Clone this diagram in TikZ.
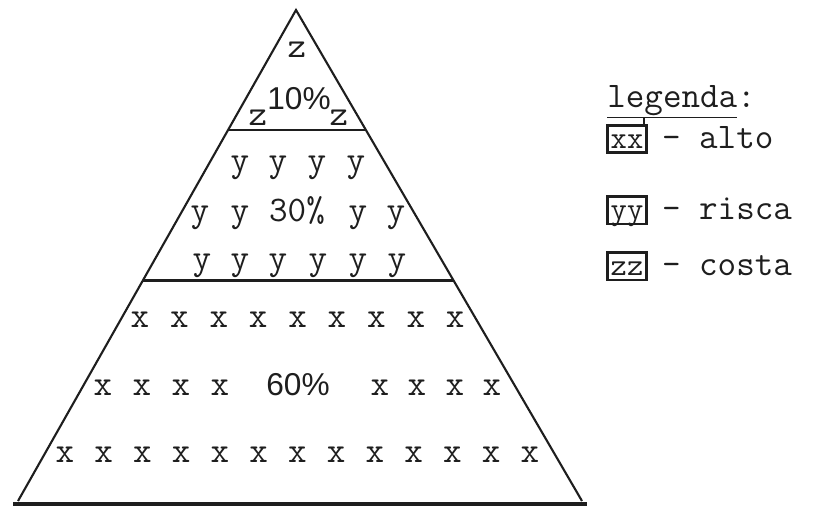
\documentclass[tikz,border=0pt]{standalone}
\usepackage{fontspec}
\setsansfont{Liberation Sans}
\usetikzlibrary{positioning,calc}
\definecolor{InkBlack}{RGB}{30,30,30}
\tikzset{
  edge/.style={draw=InkBlack, line width=1.2pt},
  ltr/.style={font=\ttfamily\fontsize{20.5}{20.5}\selectfont, text=InkBlack, inner sep=0pt, anchor=base},
  pct/.style={font=\sffamily\fontsize{18}{18}\selectfont, text=InkBlack, inner sep=0pt, anchor=base},
  keybox/.style={draw=InkBlack, line width=1.3pt, font=\ttfamily\fontsize{18}{18}\selectfont,
    text=InkBlack, inner xsep=1pt, inner ysep=1.5pt, text height=0.4cm, text depth=0.04cm,
    minimum width=0.78cm, anchor=base},
  keytxt/.style={font=\ttfamily\fontsize{20.5}{20.5}\selectfont, text=InkBlack, inner sep=0pt,
    anchor=base west},
}
\begin{document}
\begin{tikzpicture}[x=0.02cm, y=-0.02cm]
  \useasboundingbox (0,0) rectangle (827,518);
  % pyramid
  \coordinate (apex) at (296,10);
  \coordinate (bl) at (18,501);
  \coordinate (br) at (582,501);
  \coordinate (t1l) at ($(apex)!0.2449!(bl)$);
  \coordinate (t1r) at ($(apex)!0.2449!(br)$);
  \coordinate (t2l) at ($(apex)!0.551!(bl)$);
  \coordinate (t2r) at ($(apex)!0.551!(br)$);
  \coordinate (b0) at (13,504);
  \coordinate (b1) at (587,504);
  \draw[edge] (bl) -- (apex) -- (br);
  \draw[edge] (t1l) -- (t1r);
  \draw[edge] (t2l) -- (t2r);
  \draw[edge, line width=2pt] (b0) -- (b1);

  % top: costa
  \node[ltr] (za) at (297,57) {z};
  \node[ltr] (zb) at (258,125) {z};
  \node[ltr] (zc) at (339,125) {z};
  \node[pct] (p10) at (299,109) {10\%};

  % middle: risca
  \foreach \xx [count=\i] in {240,278,317,356}
    \node[ltr] (ya\i) at (\xx,171) {y};
  \foreach \xx [count=\i] in {200,240,358,396}
    \node[ltr] (yb\i) at (\xx,221) {y};
  \node[ltr] (p30) at (297,221) {30\%};
  \foreach \xx [count=\i] in {202,240,278,318,358,397}
    \node[ltr] (yc\i) at (\xx,269) {y};

  % bottom: alto
  \foreach \i in {1,...,9}
    \node[ltr] (xa\i) at ({140+39.4*(\i-1)},327) {x};
  \foreach \xx [count=\i] in {103,142,181,220,380,417,455,492}
    \node[ltr] (xb\i) at (\xx,395) {x};
  \node[pct] (p60) at (298,395) {60\%};
  \foreach \i in {1,...,13}
    \node[ltr] (xc\i) at ({65+38.75*(\i-1)},462) {x};

  % legend
  \node[keytxt] (leg) at (607,107) {\underline{legenda}:};
  \node[keybox] (kx) at (627,148) {xx};
  \node[keybox] (ky) at (627,219) {yy};
  \node[keybox] (kz) at (627,275) {zz};
  \draw[edge, line width=0.8pt] ([xshift=-2pt]kx.north east) -- ++(0,-7);
  \node[keytxt] (tx) at ([xshift=8pt]kx.base east) {- alto};
  \node[keytxt] (ty) at ([xshift=8pt]ky.base east) {- risca};
  \node[keytxt] (tz) at ([xshift=8pt]kz.base east) {- costa};
\end{tikzpicture}
\end{document}
